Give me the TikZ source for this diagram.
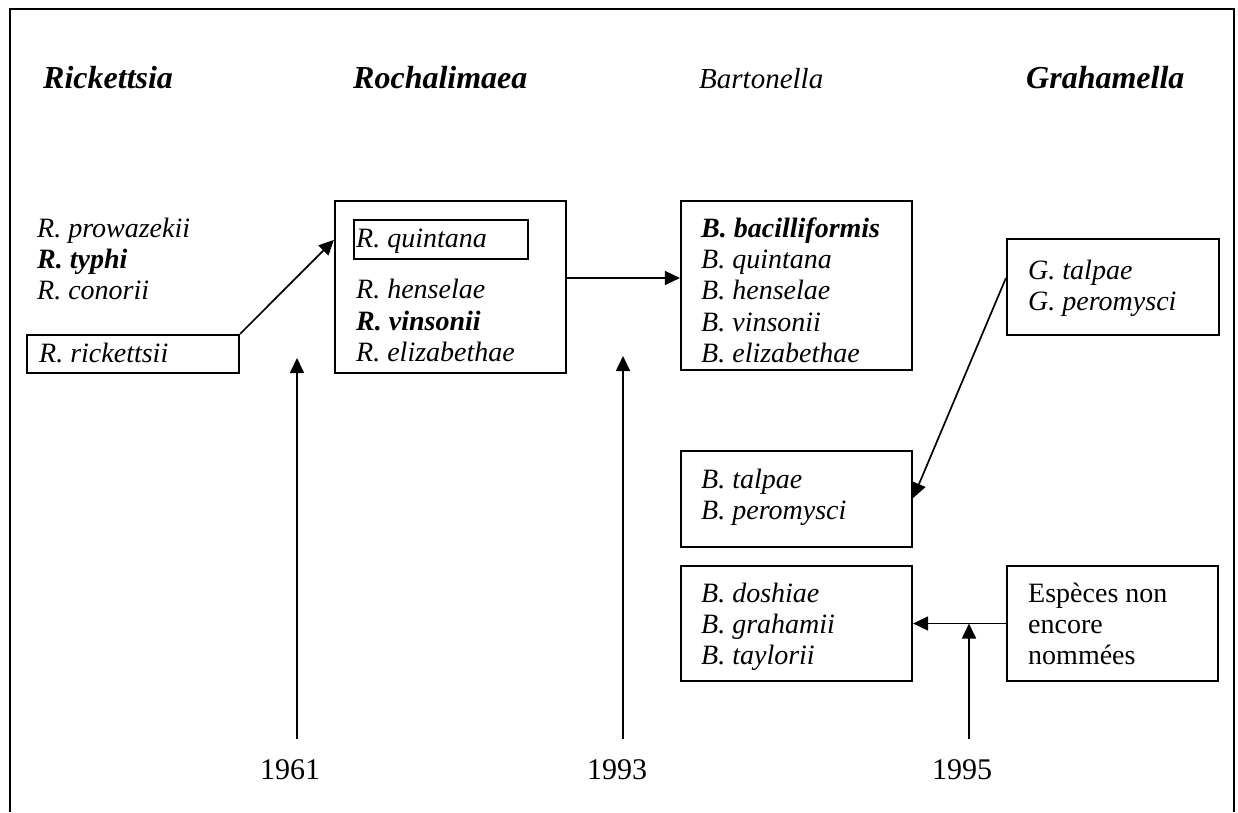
\documentclass[tikz,border=0pt]{standalone}
\usepackage{fontspec}
\setmainfont{Liberation Serif}
\usetikzlibrary{arrows.meta}
\begin{document}
\begin{tikzpicture}[x=1pt,y=-1pt,
  box/.style={draw, line width=2.2pt, inner sep=0pt},
  conn/.style={line width=1.7pt, -{Triangle[length=15pt,width=14pt]}},
  txt/.style={anchor=base west, inner sep=0pt, font=\fontsize{28}{33}\selectfont\itshape},
  btxt/.style={anchor=base west, inner sep=0pt, font=\fontsize{28}{33}\selectfont\bfseries\itshape},
  rtxt/.style={anchor=base west, inner sep=0pt, font=\fontsize{28}{33}\selectfont},
  head/.style={anchor=base west, inner sep=0pt, font=\fontsize{32}{38}\selectfont\bfseries\itshape},
  year/.style={anchor=base, inner sep=0pt, font=\fontsize{30}{36}\selectfont},
]
\useasboundingbox (0,0) rectangle (1238,812);
\fill[white] (0,0) rectangle (1238,812);
% frame
\draw[line width=2.2pt] (10,812) -- (10,9) -- (1234,9) -- (1234,812);

% headers
\node[head] (hR) at (43,88) {Rickettsia};
\node[head] (hRo) at (353,88) {Rochalimaea};
\node[anchor=base west, inner sep=0pt, font=\fontsize{29}{35}\selectfont\itshape] (hB) at (699,88) {Bartonella};
\node[head] (hG) at (1026,88) {Grahamella};

% boxes
\node[box, minimum width=212pt, minimum height=38pt] (rick) at (133,354) {};
\node[box, minimum width=231pt, minimum height=172pt] (roch) at (450.5,287) {};
\node[box, minimum width=174pt, minimum height=39pt] (quin) at (441,239.5) {};
\node[box, minimum width=231pt, minimum height=169pt] (bart) at (796.5,285.5) {};
\node[box, minimum width=212pt, minimum height=96pt] (gbox) at (1113,287) {};
\node[box, minimum width=231pt, minimum height=96pt] (talp) at (796.5,499) {};
\node[box, minimum width=231pt, minimum height=115pt] (dosh) at (796.5,623.5) {};
\node[box, minimum width=211pt, minimum height=115pt] (esp) at (1112.5,623.5) {};

% Rickettsia texts
\node[txt] (r1) at (37,237) {R. prowazekii};
\node[btxt] (r2) at (37,268) {R. typhi};
\node[txt] (r3) at (37,299) {R. conorii};
\node[txt] (r4) at (39,362) {R. rickettsii};

% Rochalimaea texts
\node[txt] (q1) at (356,247) {R. quintana};
\node[txt] (q2) at (356,298) {R. henselae};
\node[btxt] (q3) at (356,330) {R. vinsonii};
\node[txt] (q4) at (356,361) {R. elizabethae};

% Bartonella texts
\node[btxt] (b1) at (701,237) {B. bacilliformis};
\node[txt] (b2) at (701,268.3) {B. quintana};
\node[txt] (b3) at (701,299.6) {B. henselae};
\node[txt] (b4) at (701,331) {B. vinsonii};
\node[txt] (b5) at (701,362) {B. elizabethae};

% Grahamella texts
\node[txt] (g1) at (1028,279) {G. talpae};
\node[txt] (g2) at (1028,310) {G. peromysci};

% B. talpae box
\node[txt] (t1) at (701,488) {B. talpae};
\node[txt] (t2) at (701,519) {B. peromysci};

% B. doshiae box
\node[txt] (d1) at (701,602) {B. doshiae};
\node[txt] (d2) at (701,633) {B. grahamii};
\node[txt] (d3) at (701,664) {B. taylorii};

% Especes box
\node[rtxt] (e1) at (1028,602) {Espèces non};
\node[rtxt] (e2) at (1028,633) {encore};
\node[rtxt] (e3) at (1028,664) {nommées};

% years
\node[year] (y1) at (290,779) {1961};
\node[year] (y2) at (617,779) {1993};
\node[year] (y3) at (962,779) {1995};

% connectors
\draw[conn] (rick.north east) -- (roch.158);
\draw[conn] ([yshift=9pt]roch.east) -- ([yshift=7.5pt]bart.west);
\draw[conn] ([yshift=9pt]gbox.west) -- ([yshift=1pt]talp.east);
\draw[conn] (esp.west) -- (dosh.east);

\coordinate (s1) at (297,739);
\coordinate (e1c) at (297,358);
\coordinate (s2) at (623,739);
\coordinate (e2c) at (623,356);
\coordinate (s3) at (969,739);
\coordinate (e3c) at (969,623.5);
\draw[conn] (s1) -- (e1c);
\draw[conn] (s2) -- (e2c);
\draw[conn] (s3) -- (e3c);
\end{tikzpicture}
\end{document}
